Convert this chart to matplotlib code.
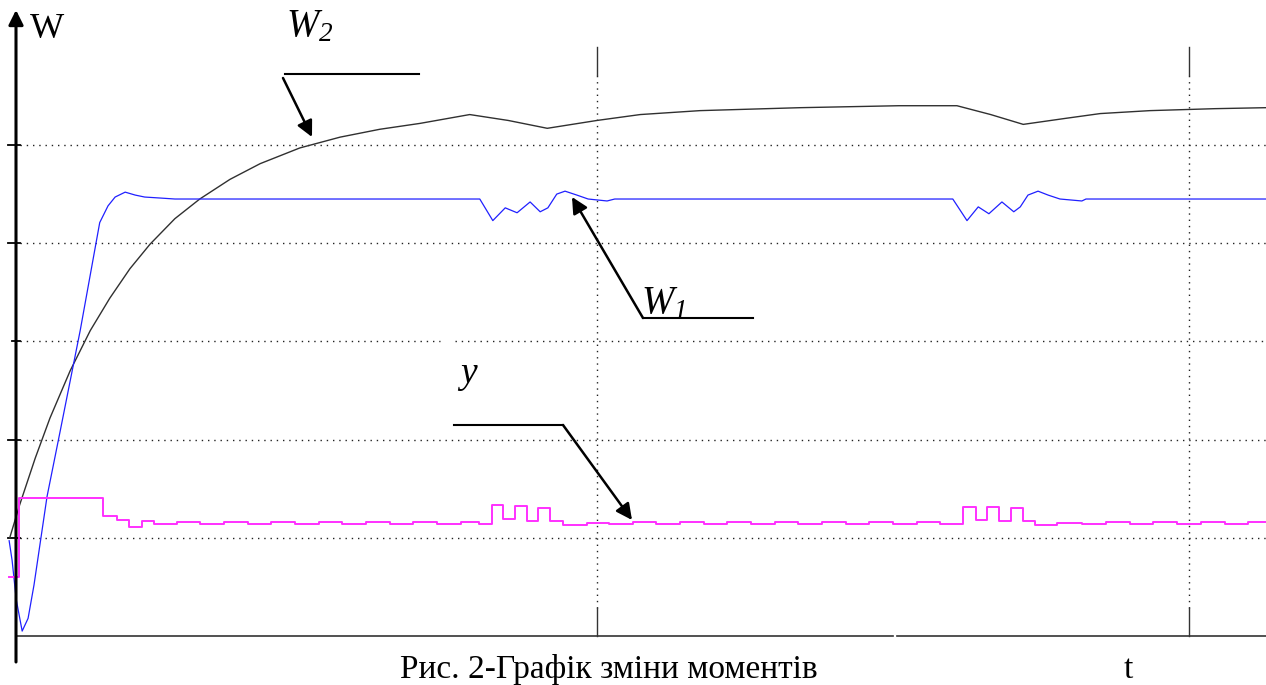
import matplotlib
matplotlib.use("Agg")
import matplotlib.pyplot as plt

# W2 (black)
t_w2 = [0.008, 0.025, 0.051, 0.076, 0.110, 0.144, 0.177, 0.211, 0.245, 0.287, 0.329,
        0.380, 0.431, 0.498, 0.566, 0.633, 0.701, 0.785, 0.850, 0.916, 1.000, 1.073,
        1.174, 1.343, 1.510, 1.608, 1.665, 1.720, 1.790, 1.850, 1.934, 2.044, 2.130]
w2 = [1.00, 1.34, 1.81, 2.22, 2.70, 3.11, 3.44, 3.74, 3.99, 4.25, 4.45,
      4.65, 4.81, 4.97, 5.08, 5.16, 5.22, 5.31, 5.25, 5.17, 5.25, 5.31,
      5.35, 5.38, 5.40, 5.40, 5.31, 5.21, 5.27, 5.32, 5.35, 5.37, 5.38]

# W1 (blue)
t_w1 = [0.007, 0.012, 0.019, 0.029, 0.039, 0.049, 0.071, 0.093, 0.127, 0.160, 0.174,
        0.186, 0.203, 0.220, 0.236, 0.262, 0.287, 0.329, 0.802, 0.824, 0.845, 0.865,
        0.887, 0.904, 0.917, 0.932, 0.946, 0.966, 0.985, 1.017, 1.030, 1.601, 1.625,
        1.644, 1.662, 1.684, 1.704, 1.715, 1.728, 1.745, 1.762, 1.782, 1.819, 1.826,
        2.130]
w1 = [0.97, 0.77, 0.37, 0.05, 0.18, 0.52, 1.42, 2.08, 3.11, 4.21, 4.38,
      4.47, 4.52, 4.49, 4.47, 4.46, 4.45, 4.45, 4.45, 4.23, 4.36, 4.31,
      4.42, 4.32, 4.36, 4.50, 4.53, 4.49, 4.45, 4.43, 4.45, 4.45, 4.23,
      4.37, 4.30, 4.42, 4.32, 4.37, 4.49, 4.53, 4.49, 4.45, 4.43, 4.45,
      4.45]

# y (magenta, stepwise)
t_y = [0.007, 0.024, 0.166, 0.189, 0.209, 0.231, 0.252, 0.29, 0.33, 0.37, 0.41, 0.45,
       0.49, 0.53, 0.57, 0.61, 0.65, 0.69, 0.73, 0.77, 0.80,
       0.823, 0.841, 0.861, 0.882, 0.900, 0.921, 0.943,
       0.983, 1.02, 1.06, 1.10, 1.14, 1.18, 1.22, 1.26, 1.30, 1.34, 1.38, 1.42, 1.46,
       1.50, 1.54, 1.58,
       1.618, 1.640, 1.659, 1.679, 1.699, 1.720, 1.740,
       1.777, 1.82, 1.86, 1.90, 1.94, 1.98, 2.02, 2.06, 2.10, 2.13]
y_vals = [0.60, 1.41, 1.22, 1.18, 1.11, 1.17, 1.14, 1.16, 1.14, 1.16, 1.14, 1.16,
          1.14, 1.16, 1.14, 1.16, 1.14, 1.16, 1.14, 1.16, 1.14,
          1.33, 1.19, 1.32, 1.17, 1.30, 1.17, 1.13,
          1.15, 1.14, 1.16, 1.14, 1.16, 1.14, 1.16, 1.14, 1.16, 1.14, 1.16, 1.14, 1.16,
          1.14, 1.16, 1.14,
          1.31, 1.18, 1.31, 1.17, 1.30, 1.17, 1.13,
          1.15, 1.14, 1.16, 1.14, 1.16, 1.14, 1.16, 1.14, 1.16, 1.16]

grid_levels = [1, 2, 3, 4, 5]
grid_times = [1, 2]
caption = "Рис. 2-Графік зміни моментів"


def px(x):
    return (x - 5) / 592.0


def py(y):
    return (636 - y) / 98.2


plt.rcParams['font.family'] = ['Liberation Serif', 'DejaVu Serif']
plt.rcParams['mathtext.fontset'] = 'custom'
plt.rcParams['mathtext.it'] = 'Liberation Serif:italic'
plt.rcParams['mathtext.rm'] = 'Liberation Serif:italic'

fig = plt.figure(figsize=(12.66, 6.85), dpi=100)
ax = fig.add_axes([0, 0, 1, 1])
ax.set_xlim(px(0), px(1266))
ax.set_ylim(py(685), py(0))
ax.axis('off')

# dotted grid
for lv in grid_levels:
    if lv == 3:
        ax.plot([px(20), px(440)], [lv, lv], color='#222222', lw=1.0, dashes=(1, 3.5))
        ax.plot([px(455), px(1266)], [lv, lv], color='#222222', lw=1.0, dashes=(1, 3.5))
        ax.plot([px(12), px(20)], [lv, lv], color='black', lw=1.3)
    else:
        ax.plot([px(20), px(1266)], [lv, lv], color='#222222', lw=1.0, dashes=(1, 3.5))
        ax.plot([px(8), px(20)], [lv, lv], color='black', lw=1.3)

for tg in grid_times:
    ax.plot([tg, tg], [py(608), py(75)], color='#222222', lw=1.0, dashes=(1, 3.5))
    ax.plot([tg, tg], [py(75), py(47)], color='#333333', lw=1.0)
    ax.plot([tg, tg], [py(636), py(608)], color='#333333', lw=1.0)

# bottom line (with a small gap as in the original)
ax.plot([px(16), px(893)], [0, 0], color='#333333', lw=1.2)
ax.plot([px(897), px(1266)], [0, 0], color='#333333', lw=1.2)

# vertical axis with arrow
ax.annotate('', xy=(px(16), py(10)), xytext=(px(16), py(662)),
            arrowprops=dict(arrowstyle='-|>', lw=2.2, color='black',
                            mutation_scale=22, shrinkA=0, shrinkB=0))

# curves
ax.plot(t_w2, w2, color='#303030', lw=1.0)
ax.plot(t_w1, w1, color='#2020ff', lw=0.9)
ax.step(t_y, y_vals, where='post', color='#ff30ff', lw=1.4)

# labels
ax.text(px(30), py(38), 'W', fontsize=26, va='baseline')

arrow = dict(arrowstyle='-|>', lw=1.8, color='black', mutation_scale=24,
             shrinkA=0, shrinkB=0)

ax.text(px(286), py(36), r'$W_{2}$', fontsize=28, va='baseline')
ax.plot([px(285), px(419)], [py(74), py(74)], color='black', lw=1.5)
ax.annotate('', xy=(px(312), py(137)), xytext=(px(283), py(78)), arrowprops=arrow)

ax.text(px(641), py(313), r'$W_{1}$', fontsize=28, va='baseline')
ax.plot([px(643), px(753)], [py(318), py(318)], color='black', lw=1.5)
ax.annotate('', xy=(px(572), py(197)), xytext=(px(643), py(318)), arrowprops=arrow)

ax.text(px(457), py(383), r'$y$', fontsize=27, va='baseline')
ax.plot([px(454), px(563)], [py(425), py(425)], color='black', lw=1.5)
ax.annotate('', xy=(px(632), py(520)), xytext=(px(563), py(425)), arrowprops=arrow)

ax.text(px(609), py(678), caption, fontsize=24, ha='center', va='baseline')
ax.text(px(1128), py(678), 't', fontsize=24, ha='center', va='baseline')

fig.savefig('out.png', dpi=100)
